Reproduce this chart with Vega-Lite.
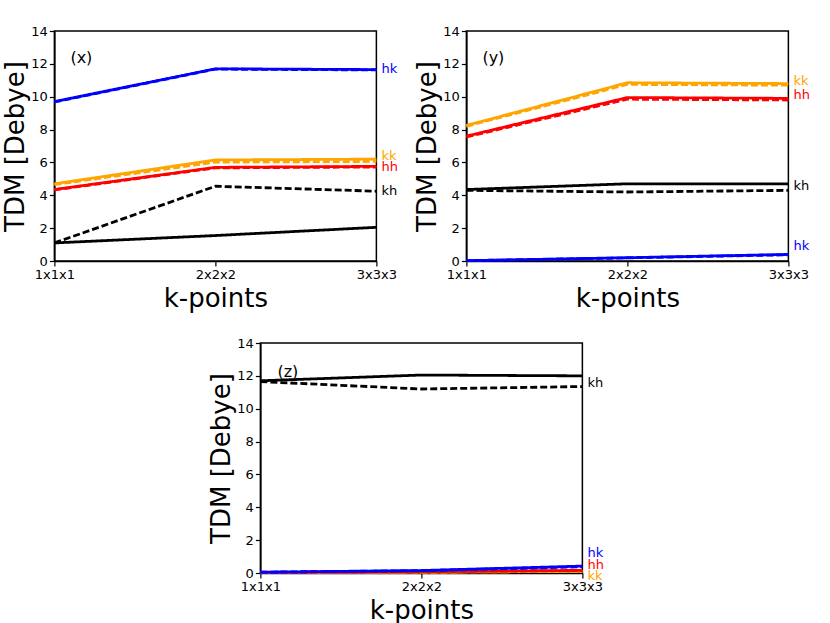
{
  "$schema": "https://vega.github.io/schema/vega-lite/v6.json",
  "background": "white",
  "padding": {"left": 2, "top": 24, "right": 5, "bottom": 0},
  "datasets": {
    "lines": [
      {"panel": "x", "pair": "hk", "kind": "solid", "k": "1x1x1", "tdm": 9.7},
      {"panel": "x", "pair": "hk", "kind": "solid", "k": "2x2x2", "tdm": 11.7},
      {"panel": "x", "pair": "hk", "kind": "solid", "k": "3x3x3", "tdm": 11.65},
      {"panel": "x", "pair": "hk", "kind": "dashed", "k": "1x1x1", "tdm": 9.68},
      {"panel": "x", "pair": "hk", "kind": "dashed", "k": "2x2x2", "tdm": 11.68},
      {"panel": "x", "pair": "hk", "kind": "dashed", "k": "3x3x3", "tdm": 11.63},
      {"panel": "x", "pair": "kk", "kind": "solid", "k": "1x1x1", "tdm": 4.7},
      {"panel": "x", "pair": "kk", "kind": "solid", "k": "2x2x2", "tdm": 6.15},
      {"panel": "x", "pair": "kk", "kind": "solid", "k": "3x3x3", "tdm": 6.2},
      {"panel": "x", "pair": "kk", "kind": "dashed", "k": "1x1x1", "tdm": 4.65},
      {"panel": "x", "pair": "kk", "kind": "dashed", "k": "2x2x2", "tdm": 6.02},
      {"panel": "x", "pair": "kk", "kind": "dashed", "k": "3x3x3", "tdm": 6.06},
      {"panel": "x", "pair": "hh", "kind": "solid", "k": "1x1x1", "tdm": 4.35},
      {"panel": "x", "pair": "hh", "kind": "solid", "k": "2x2x2", "tdm": 5.7},
      {"panel": "x", "pair": "hh", "kind": "solid", "k": "3x3x3", "tdm": 5.76},
      {"panel": "x", "pair": "hh", "kind": "dashed", "k": "1x1x1", "tdm": 4.33},
      {"panel": "x", "pair": "hh", "kind": "dashed", "k": "2x2x2", "tdm": 5.67},
      {"panel": "x", "pair": "hh", "kind": "dashed", "k": "3x3x3", "tdm": 5.72},
      {"panel": "x", "pair": "kh", "kind": "solid", "k": "1x1x1", "tdm": 1.1},
      {"panel": "x", "pair": "kh", "kind": "solid", "k": "2x2x2", "tdm": 1.55},
      {"panel": "x", "pair": "kh", "kind": "solid", "k": "3x3x3", "tdm": 2.05},
      {"panel": "x", "pair": "kh", "kind": "dashed", "k": "1x1x1", "tdm": 1.1},
      {"panel": "x", "pair": "kh", "kind": "dashed", "k": "2x2x2", "tdm": 4.55},
      {"panel": "x", "pair": "kh", "kind": "dashed", "k": "3x3x3", "tdm": 4.25},

      {"panel": "y", "pair": "hk", "kind": "solid", "k": "1x1x1", "tdm": 0.02},
      {"panel": "y", "pair": "hk", "kind": "solid", "k": "2x2x2", "tdm": 0.2},
      {"panel": "y", "pair": "hk", "kind": "solid", "k": "3x3x3", "tdm": 0.4},
      {"panel": "y", "pair": "hk", "kind": "dashed", "k": "1x1x1", "tdm": 0.02},
      {"panel": "y", "pair": "hk", "kind": "dashed", "k": "2x2x2", "tdm": 0.19},
      {"panel": "y", "pair": "hk", "kind": "dashed", "k": "3x3x3", "tdm": 0.38},
      {"panel": "y", "pair": "kk", "kind": "solid", "k": "1x1x1", "tdm": 8.25},
      {"panel": "y", "pair": "kk", "kind": "solid", "k": "2x2x2", "tdm": 10.85},
      {"panel": "y", "pair": "kk", "kind": "solid", "k": "3x3x3", "tdm": 10.8},
      {"panel": "y", "pair": "kk", "kind": "dashed", "k": "1x1x1", "tdm": 8.2},
      {"panel": "y", "pair": "kk", "kind": "dashed", "k": "2x2x2", "tdm": 10.75},
      {"panel": "y", "pair": "kk", "kind": "dashed", "k": "3x3x3", "tdm": 10.7},
      {"panel": "y", "pair": "hh", "kind": "solid", "k": "1x1x1", "tdm": 7.6},
      {"panel": "y", "pair": "hh", "kind": "solid", "k": "2x2x2", "tdm": 9.95},
      {"panel": "y", "pair": "hh", "kind": "solid", "k": "3x3x3", "tdm": 9.9},
      {"panel": "y", "pair": "hh", "kind": "dashed", "k": "1x1x1", "tdm": 7.55},
      {"panel": "y", "pair": "hh", "kind": "dashed", "k": "2x2x2", "tdm": 9.85},
      {"panel": "y", "pair": "hh", "kind": "dashed", "k": "3x3x3", "tdm": 9.8},
      {"panel": "y", "pair": "kh", "kind": "solid", "k": "1x1x1", "tdm": 4.35},
      {"panel": "y", "pair": "kh", "kind": "solid", "k": "2x2x2", "tdm": 4.7},
      {"panel": "y", "pair": "kh", "kind": "solid", "k": "3x3x3", "tdm": 4.7},
      {"panel": "y", "pair": "kh", "kind": "dashed", "k": "1x1x1", "tdm": 4.3},
      {"panel": "y", "pair": "kh", "kind": "dashed", "k": "2x2x2", "tdm": 4.2},
      {"panel": "y", "pair": "kh", "kind": "dashed", "k": "3x3x3", "tdm": 4.3},

      {"panel": "z", "pair": "kk", "kind": "solid", "k": "1x1x1", "tdm": 0.02},
      {"panel": "z", "pair": "kk", "kind": "solid", "k": "2x2x2", "tdm": 0.05},
      {"panel": "z", "pair": "kk", "kind": "solid", "k": "3x3x3", "tdm": 0.1},
      {"panel": "z", "pair": "kk", "kind": "dashed", "k": "1x1x1", "tdm": 0.02},
      {"panel": "z", "pair": "kk", "kind": "dashed", "k": "2x2x2", "tdm": 0.05},
      {"panel": "z", "pair": "kk", "kind": "dashed", "k": "3x3x3", "tdm": 0.1},
      {"panel": "z", "pair": "hh", "kind": "solid", "k": "1x1x1", "tdm": 0.03},
      {"panel": "z", "pair": "hh", "kind": "solid", "k": "2x2x2", "tdm": 0.08},
      {"panel": "z", "pair": "hh", "kind": "solid", "k": "3x3x3", "tdm": 0.16},
      {"panel": "z", "pair": "hh", "kind": "dashed", "k": "1x1x1", "tdm": 0.03},
      {"panel": "z", "pair": "hh", "kind": "dashed", "k": "2x2x2", "tdm": 0.08},
      {"panel": "z", "pair": "hh", "kind": "dashed", "k": "3x3x3", "tdm": 0.15},
      {"panel": "z", "pair": "hk", "kind": "solid", "k": "1x1x1", "tdm": 0.05},
      {"panel": "z", "pair": "hk", "kind": "solid", "k": "2x2x2", "tdm": 0.15},
      {"panel": "z", "pair": "hk", "kind": "solid", "k": "3x3x3", "tdm": 0.42},
      {"panel": "z", "pair": "hk", "kind": "dashed", "k": "1x1x1", "tdm": 0.05},
      {"panel": "z", "pair": "hk", "kind": "dashed", "k": "2x2x2", "tdm": 0.14},
      {"panel": "z", "pair": "hk", "kind": "dashed", "k": "3x3x3", "tdm": 0.38},
      {"panel": "z", "pair": "kh", "kind": "solid", "k": "1x1x1", "tdm": 11.7},
      {"panel": "z", "pair": "kh", "kind": "solid", "k": "2x2x2", "tdm": 12.05},
      {"panel": "z", "pair": "kh", "kind": "solid", "k": "3x3x3", "tdm": 12.0},
      {"panel": "z", "pair": "kh", "kind": "dashed", "k": "1x1x1", "tdm": 11.65},
      {"panel": "z", "pair": "kh", "kind": "dashed", "k": "2x2x2", "tdm": 11.2},
      {"panel": "z", "pair": "kh", "kind": "dashed", "k": "3x3x3", "tdm": 11.35}
    ],
    "labels": [
      {"panel": "x", "pair": "hk", "k": "3x3x3", "tdm": 11.69},
      {"panel": "x", "pair": "kk", "k": "3x3x3", "tdm": 6.42},
      {"panel": "x", "pair": "hh", "k": "3x3x3", "tdm": 5.75},
      {"panel": "x", "pair": "kh", "k": "3x3x3", "tdm": 4.26},
      {"panel": "y", "pair": "kk", "k": "3x3x3", "tdm": 10.98},
      {"panel": "y", "pair": "hh", "k": "3x3x3", "tdm": 10.08},
      {"panel": "y", "pair": "kh", "k": "3x3x3", "tdm": 4.56},
      {"panel": "y", "pair": "hk", "k": "3x3x3", "tdm": 0.91},
      {"panel": "z", "pair": "kh", "k": "3x3x3", "tdm": 11.56},
      {"panel": "z", "pair": "hk", "k": "3x3x3", "tdm": 1.2},
      {"panel": "z", "pair": "hh", "k": "3x3x3", "tdm": 0.5},
      {"panel": "z", "pair": "kk", "k": "3x3x3", "tdm": -0.18}
    ],
    "tags": [
      {"panel": "x", "tag": "(x)", "k": "1x1x1", "tdm": 12.35},
      {"panel": "y", "tag": "(y)", "k": "1x1x1", "tdm": 12.35},
      {"panel": "z", "tag": "(z)", "k": "1x1x1", "tdm": 12.25}
    ]
  },
  "config": {
    "font": "DejaVu Sans",
    "view": {"stroke": "black", "strokeWidth": 1.5},
    "axis": {
      "grid": false,
      "labelFont": "DejaVu Sans",
      "labelFontSize": 13,
      "labelColor": "black",
      "labelOverlap": false,
      "labelFlush": false,
      "labelBound": false,
      "titleFont": "DejaVu Sans",
      "titleFontSize": 26,
      "titleFontWeight": "normal",
      "titleColor": "black",
      "domainColor": "black",
      "domainWidth": 1.5,
      "tickColor": "black",
      "tickWidth": 1.2,
      "tickSize": 5
    },
    "axisY": {"values": [0, 2, 4, 6, 8, 10, 12, 14], "titlePadding": 2},
    "axisX": {"labelAngle": 0, "titlePadding": 4}
  },
  "vconcat": [
    {
      "hconcat": [
        {
          "width": 322, "height": 230,
          "encoding": {
            "x": {"field": "k", "type": "ordinal", "sort": ["1x1x1", "2x2x2", "3x3x3"], "scale": {"type": "point", "padding": 0}, "title": "k-points"},
            "y": {"field": "tdm", "type": "quantitative", "scale": {"domain": [0, 14]}, "title": "TDM [Debye]", "axis": {"values": [0, 2, 4, 6, 8, 10, 12, 14], "tickCount": 8}}
          },
          "layer": [
            {
              "data": {"name": "lines"},
              "transform": [{"filter": "datum.panel === 'x'"}],
              "mark": {"type": "line", "strokeWidth": 2.8},
              "encoding": {
                "color": {"field": "pair", "type": "nominal", "scale": {"domain": ["hk", "kk", "hh", "kh"], "range": ["#0000ff", "#ffa500", "#ff0000", "#000000"]}, "legend": null},
                "strokeDash": {"field": "kind", "type": "nominal", "scale": {"domain": ["solid", "dashed"], "range": [[1, 0], [7, 3]]}, "legend": null}
              }
            },
            {
              "data": {"name": "labels"},
              "transform": [{"filter": "datum.panel === 'x'"}],
              "mark": {"type": "text", "align": "left", "baseline": "middle", "dx": 5, "fontSize": 13},
              "encoding": {
                "text": {"field": "pair"},
                "color": {"field": "pair", "type": "nominal", "legend": null}
              }
            },
            {
              "data": {"name": "tags"},
              "transform": [{"filter": "datum.panel === 'x'"}],
              "mark": {"type": "text", "align": "left", "baseline": "middle", "dx": 16, "fontSize": 16, "color": "black"},
              "encoding": {
                "text": {"field": "tag"}
              }
            }
          ]
        },
        {
          "width": 322, "height": 230,
          "encoding": {
            "x": {"field": "k", "type": "ordinal", "sort": ["1x1x1", "2x2x2", "3x3x3"], "scale": {"type": "point", "padding": 0}, "title": "k-points"},
            "y": {"field": "tdm", "type": "quantitative", "scale": {"domain": [0, 14]}, "title": "TDM [Debye]", "axis": {"values": [0, 2, 4, 6, 8, 10, 12, 14], "tickCount": 8}}
          },
          "layer": [
            {
              "data": {"name": "lines"},
              "transform": [{"filter": "datum.panel === 'y'"}],
              "mark": {"type": "line", "strokeWidth": 2.8},
              "encoding": {
                "color": {"field": "pair", "type": "nominal", "scale": {"domain": ["hk", "kk", "hh", "kh"], "range": ["#0000ff", "#ffa500", "#ff0000", "#000000"]}, "legend": null},
                "strokeDash": {"field": "kind", "type": "nominal", "scale": {"domain": ["solid", "dashed"], "range": [[1, 0], [7, 3]]}, "legend": null}
              }
            },
            {
              "data": {"name": "labels"},
              "transform": [{"filter": "datum.panel === 'y'"}],
              "mark": {"type": "text", "align": "left", "baseline": "middle", "dx": 5, "fontSize": 13},
              "encoding": {
                "text": {"field": "pair"},
                "color": {"field": "pair", "type": "nominal", "legend": null}
              }
            },
            {
              "data": {"name": "tags"},
              "transform": [{"filter": "datum.panel === 'y'"}],
              "mark": {"type": "text", "align": "left", "baseline": "middle", "dx": 16, "fontSize": 16, "color": "black"},
              "encoding": {
                "text": {"field": "tag"}
              }
            }
          ]
        }
      ],
      "spacing": 14
    },
    {
      "width": 322, "height": 230,
      "encoding": {
        "x": {"field": "k", "type": "ordinal", "sort": ["1x1x1", "2x2x2", "3x3x3"], "scale": {"type": "point", "padding": 0}, "title": "k-points"},
        "y": {"field": "tdm", "type": "quantitative", "scale": {"domain": [0, 14]}, "title": "TDM [Debye]", "axis": {"values": [0, 2, 4, 6, 8, 10, 12, 14], "tickCount": 8}}
      },
      "layer": [
        {
          "data": {"name": "lines"},
          "transform": [{"filter": "datum.panel === 'z'"}],
          "mark": {"type": "line", "strokeWidth": 2.8},
          "encoding": {
            "color": {"field": "pair", "type": "nominal", "scale": {"domain": ["hk", "kk", "hh", "kh"], "range": ["#0000ff", "#ffa500", "#ff0000", "#000000"]}, "legend": null},
            "strokeDash": {"field": "kind", "type": "nominal", "scale": {"domain": ["solid", "dashed"], "range": [[1, 0], [7, 3]]}, "legend": null}
          }
        },
        {
          "data": {"name": "labels"},
          "transform": [{"filter": "datum.panel === 'z'"}],
          "mark": {"type": "text", "align": "left", "baseline": "middle", "dx": 5, "fontSize": 13},
          "encoding": {
            "text": {"field": "pair"},
            "color": {"field": "pair", "type": "nominal", "legend": null}
          }
        },
        {
          "data": {"name": "tags"},
          "transform": [{"filter": "datum.panel === 'z'"}],
          "mark": {"type": "text", "align": "left", "baseline": "middle", "dx": 17, "fontSize": 16, "color": "black"},
          "encoding": {
            "text": {"field": "tag"}
          }
        }
      ]
    }
  ],
  "spacing": 24,
  "center": true
}
